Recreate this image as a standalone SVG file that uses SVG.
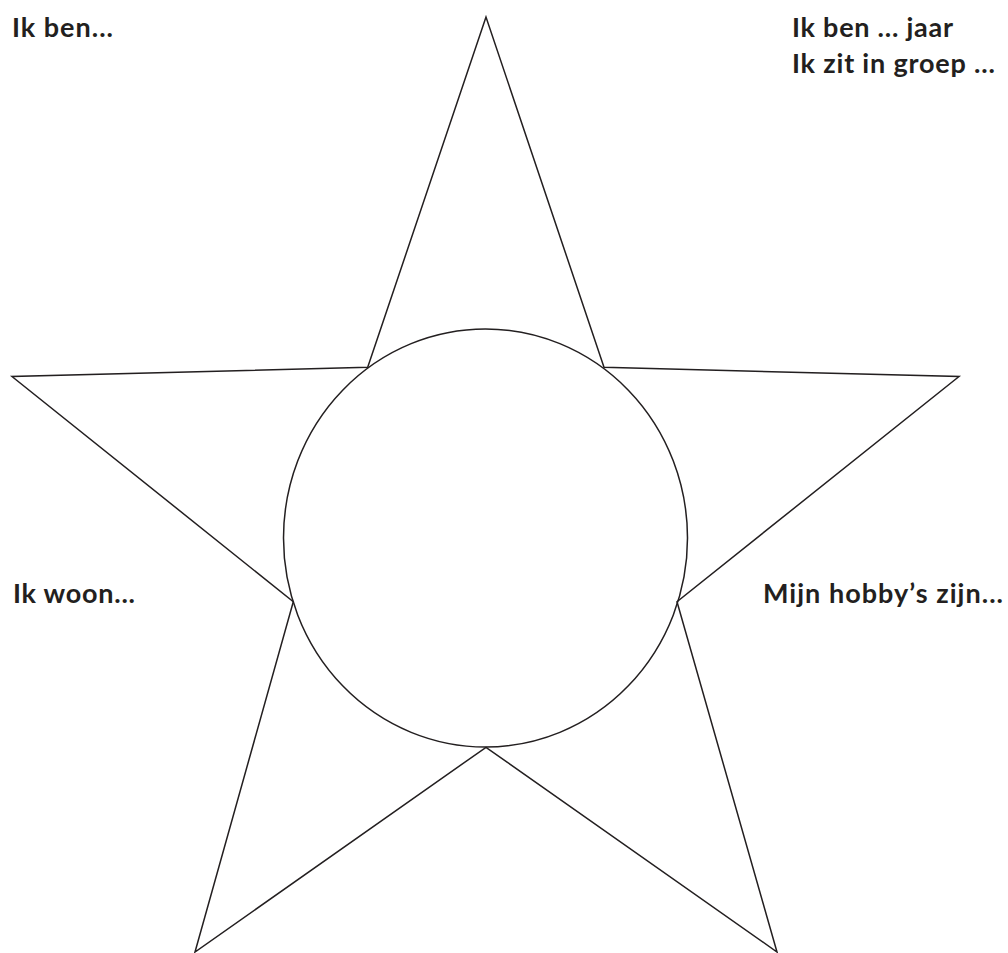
<svg xmlns="http://www.w3.org/2000/svg" width="1008" height="953" viewBox="0 0 1008 953">
<style>
.lbl{font-family:Lato,"Liberation Sans",sans-serif;font-weight:bold;font-size:27px;fill:#231f20}
.ln{fill:none;stroke:#231f20;stroke-width:1.5;stroke-linejoin:miter}
</style>
<rect width="1008" height="953" fill="#fff"/>
<g id="star">
<polygon class="ln" points="486,17 367.7,367.3 12,376.5 293.3,601.7 195,952 486,747.3 777,952 677,601.7 959,376.5 604,367.3"/>
</g>
<g id="circle">
<ellipse class="ln" cx="485.5" cy="538" rx="202" ry="209"/>
</g>
<g id="labels">
<text class="lbl" x="12" y="37" textLength="101" lengthAdjust="spacing">Ik ben...</text>
<text class="lbl" x="792" y="37" textLength="161" lengthAdjust="spacing">Ik ben ... jaar</text>
<text class="lbl" x="792" y="73" textLength="203" lengthAdjust="spacing">Ik zit in groep ...</text>
<text class="lbl" x="13" y="603" textLength="122" lengthAdjust="spacing">Ik woon...</text>
<text class="lbl" x="763" y="603" textLength="240" lengthAdjust="spacing">Mijn hobby’s zijn...</text>
</g>
</svg>
